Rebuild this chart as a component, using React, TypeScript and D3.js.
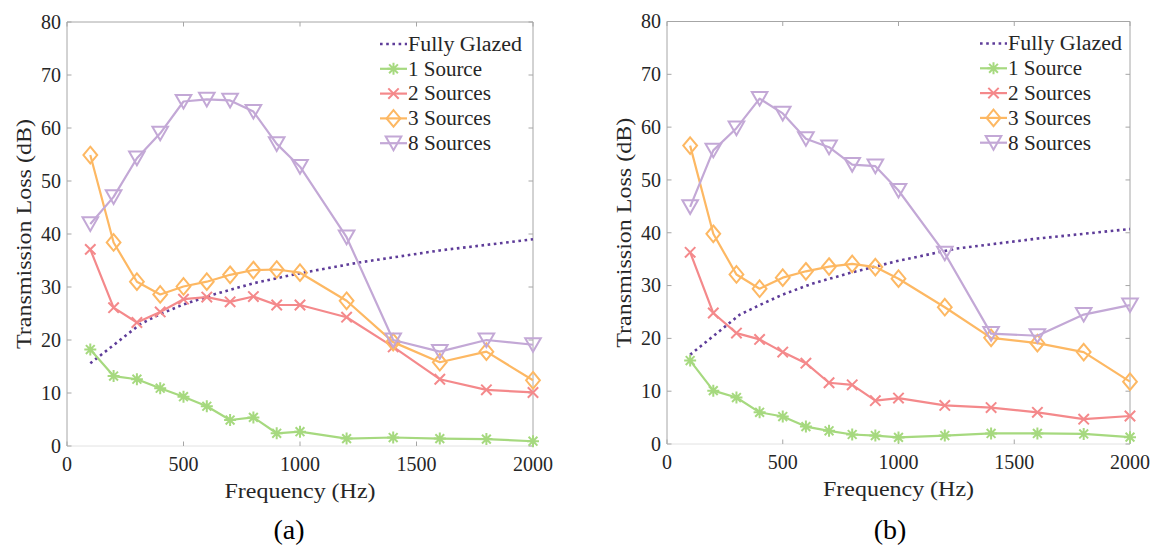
import React from "react";
import * as d3 from "d3";

// Frequencies of the measured points (Hz)
const freqs = [100, 200, 300, 400, 500, 600, 700, 800, 900, 1000, 1200, 1400, 1600, 1800, 2000];

// Panel (a)
const oneSourceA = [18.2, 13.2, 12.6, 10.9, 9.3, 7.5, 4.9, 5.4, 2.4, 2.7, 1.4, 1.6, 1.4, 1.3, 0.9];
const twoSourcesA = [37.1, 26.1, 23.3, 25.3, 27.7, 28.1, 27.2, 28.2, 26.6, 26.6, 24.3, 18.7, 12.6, 10.6, 10.1];
const threeSourcesA = [54.9, 38.4, 31.0, 28.6, 30.1, 31.0, 32.3, 33.2, 33.3, 32.7, 27.4, 19.6, 15.8, 17.8, 12.4];
const eightSourcesA = [41.9, 47.0, 54.3, 59.0, 65.0, 65.4, 65.2, 63.1, 57.0, 52.7, 39.4, 20.0, 17.8, 20.0, 19.1];

// Panel (b)
const oneSourceB = [15.8, 10.1, 8.8, 6.0, 5.2, 3.3, 2.5, 1.8, 1.6, 1.25, 1.6, 2.0, 2.0, 1.9, 1.3];
const twoSourcesB = [36.3, 24.8, 21.0, 19.8, 17.4, 15.3, 11.6, 11.2, 8.2, 8.7, 7.3, 6.9, 6.0, 4.7, 5.3];
const threeSourcesB = [56.5, 39.8, 32.1, 29.4, 31.5, 32.7, 33.6, 34.1, 33.5, 31.3, 25.9, 20.1, 19.1, 17.4, 11.8];
const eightSourcesB = [44.9, 55.6, 59.8, 65.4, 62.6, 57.8, 56.2, 52.9, 52.6, 48.0, 36.1, 20.9, 20.5, 24.5, 26.3];

// Fully glazed reference curve (third-octave frequencies)
const glazedFreqs = [100, 315, 400, 500, 630, 800, 1000, 1250, 1600, 2000];
const glazedA = [15.6, 23.0, 24.9, 26.7, 28.6, 30.7, 32.6, 34.6, 36.9, 39.0];
const glazedB = [16.9, 24.5, 26.3, 28.3, 30.4, 32.5, 34.7, 37.0, 38.9, 40.7];

const xTicks = [0, 500, 1000, 1500, 2000];
const yTicks = [0, 10, 20, 30, 40, 50, 60, 70, 80];

const seriesNames = ["Fully Glazed", "1 Source", "2 Sources", "3 Sources", "8 Sources"];

const COLORS = {
  glazed: "#5e3c99",
  one: "#a6d97f",
  two: "#f4898b",
  three: "#fdb863",
  eight: "#c3a8d6",
};

const SERIF = "'Liberation Serif', 'Times New Roman', serif";

type MarkerKind = "none" | "asterisk" | "x" | "diamond" | "triangleDown";

function markerPath(kind: MarkerKind): string {
  switch (kind) {
    case "asterisk": {
      const r = 6;
      const d = 4.4;
      return `M${-r},0L${r},0M0,${-r}L0,${r}M${-d},${-d}L${d},${d}M${-d},${d}L${d},${-d}`;
    }
    case "x": {
      const r = 5.2;
      return `M${-r},${-r}L${r},${r}M${-r},${r}L${r},${-r}`;
    }
    case "diamond":
      return "M0,-8.3L6.9,0L0,8.3L-6.9,0Z";
    case "triangleDown":
      return "M-7.8,-6.6L7.8,-6.6L0,7.0Z";
    default:
      return "";
  }
}

// Text widths of the axis labels and legend entries
const TEXT_LENGTH: Record<string, number> = {
  "Fully Glazed": 114,
  "1 Source": 74,
  "2 Sources": 83,
  "3 Sources": 83,
  "8 Sources": 83,
  "Frequency (Hz)": 151,
  "Transmission Loss (dB)": 230,
};

interface Series {
  name: string;
  x: number[];
  y: number[];
  color: string;
  marker: MarkerKind;
  dotted?: boolean;
}

interface PanelProps {
  left: number;
  right: number;
  top: number;
  bottom: number;
  caption: string;
  captionX: number;
  series: Series[];
}

function Panel({ left, right, top, bottom, caption, captionX, series }: PanelProps) {
  const x = d3.scaleLinear().domain([0, 2000]).range([left, right]);
  const y = d3.scaleLinear().domain([0, 80]).range([bottom, top]);
  const tickLen = 4.5;
  const axisColor = "#a6a6a6";
  const legendX = left + 313;
  const legendY0 = top + 22;
  const legendStep = 24.8;

  return (
    <g>
      {/* axes box */}
      <line x1={left} x2={right} y1={top} y2={top} stroke={axisColor} strokeWidth={1} />
      <line x1={right} x2={right} y1={top} y2={bottom} stroke={axisColor} strokeWidth={1} />
      <line x1={left} x2={left} y1={top} y2={bottom} stroke={axisColor} strokeWidth={1} />
      <line x1={left} x2={right} y1={bottom} y2={bottom} stroke="#e2e2e2" strokeWidth={1} />

      {/* ticks */}
      {xTicks.map((t) => (
        <g key={`xt${t}`}>
          <line x1={x(t)} x2={x(t)} y1={bottom} y2={bottom - tickLen} stroke={axisColor} />
          <line x1={x(t)} x2={x(t)} y1={top} y2={top + tickLen} stroke={axisColor} />
          <text
            x={x(t)}
            y={bottom + 25}
            textAnchor="middle"
            fontFamily={SERIF}
            fontSize={20}
            fill="#262626"
          >
            {t}
          </text>
        </g>
      ))}
      {yTicks.map((t) => (
        <g key={`yt${t}`}>
          <line x1={left} x2={left + tickLen} y1={y(t)} y2={y(t)} stroke={axisColor} />
          <line x1={right} x2={right - tickLen} y1={y(t)} y2={y(t)} stroke={axisColor} />
          <text
            x={left - 6}
            y={y(t)}
            dy="0.34em"
            textAnchor="end"
            fontFamily={SERIF}
            fontSize={20}
            fill="#262626"
          >
            {t}
          </text>
        </g>
      ))}

      {/* axis labels */}
      <text
        x={(left + right) / 2}
        y={bottom + 52}
        textAnchor="middle"
        fontFamily={SERIF}
        fontSize={22}
        fill="#262626"
        textLength={TEXT_LENGTH["Frequency (Hz)"]}
        lengthAdjust="spacingAndGlyphs"
      >
        Frequency (Hz)
      </text>
      <text
        transform={`translate(${left - 36},${(top + bottom) / 2}) rotate(-90)`}
        textAnchor="middle"
        fontFamily={SERIF}
        fontSize={22}
        fill="#262626"
        textLength={TEXT_LENGTH["Transmission Loss (dB)"]}
        lengthAdjust="spacingAndGlyphs"
      >
        Transmission Loss (dB)
      </text>

      {/* data */}
      {series.map((s) => {
        const pts: [number, number][] = s.x.map((f, i) => [x(f), y(s.y[i])]);
        const line = d3.line<[number, number]>()(pts) || "";
        return (
          <g key={s.name}>
            <path
              d={line}
              fill="none"
              stroke={s.color}
              strokeWidth={s.dotted ? 2.6 : 2.2}
              strokeDasharray={s.dotted ? "2.6 3.6" : undefined}
              strokeLinejoin="round"
            />
            {s.marker !== "none" &&
              pts.map(([px, py], i) => (
                <path
                  key={i}
                  d={markerPath(s.marker)}
                  transform={`translate(${px},${py})`}
                  fill="none"
                  stroke={s.color}
                  strokeWidth={2}
                  strokeLinejoin="miter"
                />
              ))}
          </g>
        );
      })}

      {/* legend */}
      {series.map((s, i) => {
        const ly = legendY0 + i * legendStep;
        return (
          <g key={`lg${s.name}`}>
            <line
              x1={legendX}
              x2={legendX + 27}
              y1={ly}
              y2={ly}
              stroke={s.color}
              strokeWidth={s.dotted ? 2.6 : 2.2}
              strokeDasharray={s.dotted ? "2.6 3.6" : undefined}
            />
            {s.marker !== "none" && (
              <path
                d={markerPath(s.marker)}
                transform={`translate(${legendX + 13.5},${ly})`}
                fill="none"
                stroke={s.color}
                strokeWidth={2}
              />
            )}
            <text
              x={legendX + 28}
              y={ly}
              dy="0.34em"
              fontFamily={SERIF}
              fontSize={20}
              fill="#262626"
              textLength={TEXT_LENGTH[s.name]}
              lengthAdjust="spacingAndGlyphs"
            >
              {s.name}
            </text>
          </g>
        );
      })}

      {/* caption */}
      <text
        x={captionX}
        y={539}
        textAnchor="middle"
        fontFamily="'Liberation Serif', 'Times New Roman', serif"
        fontSize={28}
        fill="#000"
      >
        {caption}
      </text>
    </g>
  );
}

function makeSeries(glazed: number[], one: number[], two: number[], three: number[], eight: number[]): Series[] {
  return [
    { name: seriesNames[0], x: glazedFreqs, y: glazed, color: COLORS.glazed, marker: "none", dotted: true },
    { name: seriesNames[1], x: freqs, y: one, color: COLORS.one, marker: "asterisk" },
    { name: seriesNames[2], x: freqs, y: two, color: COLORS.two, marker: "x" },
    { name: seriesNames[3], x: freqs, y: three, color: COLORS.three, marker: "diamond" },
    { name: seriesNames[4], x: freqs, y: eight, color: COLORS.eight, marker: "triangleDown" },
  ];
}

export default function App() {
  const seriesA = makeSeries(glazedA, oneSourceA, twoSourcesA, threeSourcesA, eightSourcesA);
  const seriesB = makeSeries(glazedB, oneSourceB, twoSourcesB, threeSourcesB, eightSourcesB);
  return (
    <svg
      width={1157}
      height={546}
      viewBox="0 0 1157 546"
      style={{ position: "absolute", left: 0, top: 0, background: "#fff" }}
    >
      <rect width={1157} height={546} fill="#fff" />
      <Panel left={67} right={533} top={22} bottom={446} caption="(a)" captionX={289} series={seriesA} />
      <Panel left={667} right={1130} top={21.5} bottom={444} caption="(b)" captionX={890} series={seriesB} />
    </svg>
  );
}
